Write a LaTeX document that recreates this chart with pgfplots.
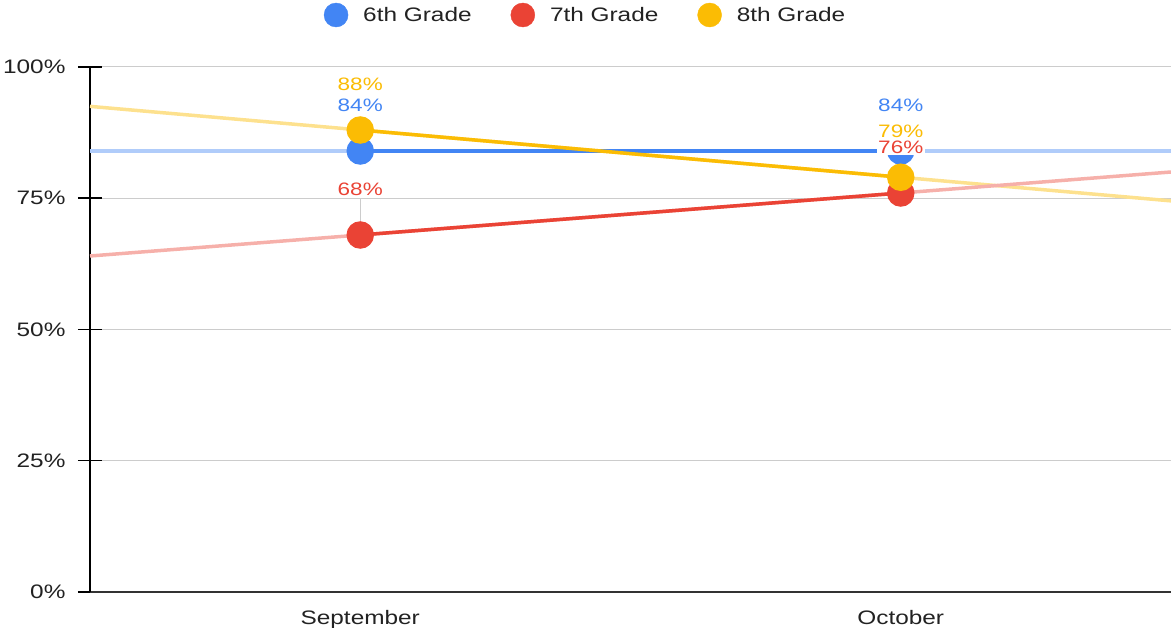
\documentclass[border=0pt]{standalone}
\usepackage{pgfplots}
\pgfplotsset{compat=1.18}
\usepackage{fontspec}
\setmainfont{Liberation Sans}[FakeStretch=1.25]
\definecolor{c6}{HTML}{4285F4}
\definecolor{c7}{HTML}{EA4335}
\definecolor{c8}{HTML}{FBBC04}
\definecolor{txt}{HTML}{222222}
\begin{document}
\begin{tikzpicture}
\begin{axis}[
  /pgf/number format/assume math mode=true,
  scale only axis, width=1081bp, height=525bp,
  xmin=-0.5, xmax=1.5, ymin=0, ymax=100,
  axis x line*=bottom, axis y line*=left,
  x axis line style={draw=black!80, line width=1.5bp, -},
  y axis line style={draw=black, line width=1.5bp, -},
  xtick={0,1}, xticklabels={September,October},
  xtick style={draw=none},
  xticklabel style={yshift=-3bp},
  ytick={0,25,50,75,100},
  yticklabel={\pgfmathprintnumber{\tick}\%},
  yticklabel style={xshift=-9bp},
  ytick style={draw=black, line width=1.5bp},
  major tick length=24bp, tick align=center,
  ymajorgrids, grid style={draw=black!20, line width=1bp},
  tick label style={font=\fontsize{19.5bp}{23bp}\selectfont, text=txt},
  legend columns=3,
  legend style={at={(0.4584,1)}, anchor=center, yshift=52bp, draw=none, fill=none,
    font=\fontsize{19.5bp}{23bp}\selectfont, text=txt,
    /tikz/every even column/.append style={column sep=37bp},
    /tikz/every odd column/.append style={column sep=13bp}},
]
% legend
\addlegendimage{c6, legend image code/.code={\fill[c6] (0bp,0bp) circle (12bp);}}
\addlegendentry{6th Grade}
\addlegendimage{c7, legend image code/.code={\fill[c7] (0bp,0bp) circle (12bp);}}
\addlegendentry{7th Grade}
\addlegendimage{c8, legend image code/.code={\fill[c8] (0bp,0bp) circle (12bp);}}
\addlegendentry{8th Grade}
% trendlines
\addplot[forget plot, c6!42!white, line width=3.5bp, mark=none] coordinates {(-0.5,84) (1.5,84)};
\addplot[forget plot, c8!45!white, line width=3.5bp, mark=none] coordinates {(-0.5,92.5) (1.5,74.5)};
\addplot[forget plot, c7!42!white, line width=3.5bp, mark=none] coordinates {(-0.5,64) (1.5,80)};
% main series
\addplot[forget plot, c6, line width=3.5bp, mark=*, mark size=12bp, mark options={solid, fill=c6, draw=none}] coordinates {(0,84) (1,84)};
\addplot[forget plot, c7, line width=3.5bp, mark=*, mark size=12bp, mark options={solid, fill=c7, draw=none}] coordinates {(0,68) (1,76)};
\addplot[forget plot, c8, line width=3.5bp, mark=*, mark size=12bp, mark options={solid, fill=c8, draw=none}] coordinates {(0,88) (1,79)};
\draw[black!20, line width=1bp] (axis cs:0,68) -- ([yshift=36bp]axis cs:0,68);
% data labels
\addplot[forget plot, draw=none, mark=none, point meta=y,
  nodes near coords={\pgfmathprintnumber{\pgfplotspointmeta}\%},
  every node near coord/.append style={anchor=center, yshift=46bp, fill=white, inner sep=1.5bp, text=c6, font=\fontsize{18bp}{21bp}\selectfont}]
  coordinates {(0,84) (1,84)};
\addplot[forget plot, draw=none, mark=none, point meta=y,
  nodes near coords={\pgfmathprintnumber{\pgfplotspointmeta}\%},
  every node near coord/.append style={anchor=center, yshift=46bp, fill=white, inner sep=1.5bp, text=c7, font=\fontsize{18bp}{21bp}\selectfont}]
  coordinates {(0,68) (1,76)};
\addplot[forget plot, draw=none, mark=none, point meta=y,
  nodes near coords={\pgfmathprintnumber{\pgfplotspointmeta}\%},
  every node near coord/.append style={anchor=center, yshift=46bp, fill=white, inner sep=1.5bp, text=c8, font=\fontsize{18bp}{21bp}\selectfont}]
  coordinates {(0,88) (1,79)};
\coordinate (SW) at (rel axis cs:0,0);
\coordinate (NE) at (rel axis cs:1,1);
\end{axis}
\pgfresetboundingbox
\useasboundingbox ([xshift=-90bp,yshift=-36bp]SW) rectangle ([yshift=67bp]NE);
\end{tikzpicture}
\end{document}
